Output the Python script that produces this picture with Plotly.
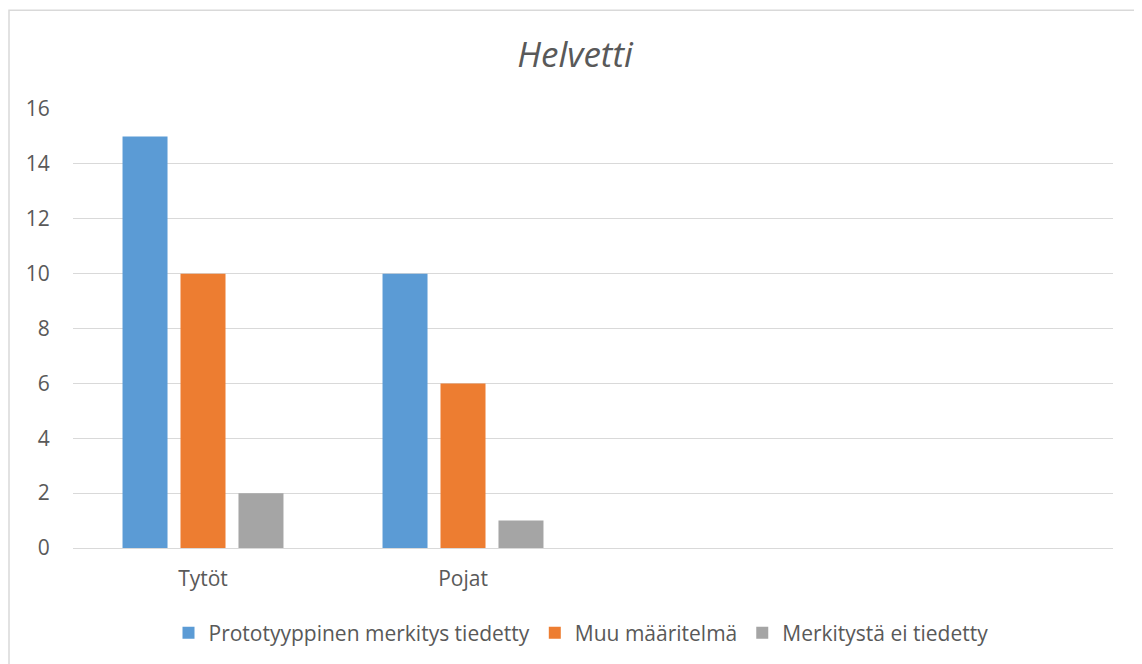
import plotly.graph_objects as go

categories = ["Tytöt", "Pojat"]
series_names = ["Prototyyppinen merkitys tiedetty", "Muu määritelmä", "Merkitystä ei tiedetty"]
prototyyppinen = [15, 10]
muu = [10, 6]
ei_tiedetty = [2, 1]
y_ticks = [0, 2, 4, 6, 8, 10, 12, 14, 16]
title_text = "Helvetti"

colors = ["#5B9BD5", "#ED7D31", "#A5A5A5"]
FONT = "Open Sans"
TXT = "#595959"

W, H = 1134, 656
L, R, T, B = 65, 29, 101, 115
PW = W - L - R
PH = H - T - B

fig = go.Figure()
for name, vals, col in zip(series_names, [prototyyppinen, muu, ei_tiedetty], colors):
    fig.add_trace(go.Bar(x=categories, y=vals, name=name, marker=dict(color=col, line=dict(width=0))))

fig.update_layout(
    width=W, height=H,
    paper_bgcolor="white", plot_bgcolor="white",
    margin=dict(l=L, r=R, t=T, b=B),
    barmode="group", bargap=0.331, bargroupgap=0.224,
    font=dict(family=FONT, color=TXT, size=21),
    title=dict(text=title_text, x=0.5, xanchor="center", y=1 - 47/H, yanchor="middle",
               font=dict(family=FONT, size=35, color=TXT, style="italic")),
    showlegend=True,
    legend=dict(orientation="h", x=(573 - L) / PW, xanchor="center", y=-(633 - 8 - (H - B)) / PH, yanchor="middle",
                font=dict(family=FONT, size=21, color=TXT), itemwidth=30,
                traceorder="normal"),
    xaxis=dict(type="category", range=[-0.5, 3.5], showgrid=False, showline=False, zeroline=False,
               ticks="outside", ticklen=12, tickcolor="rgba(0,0,0,0)",
               tickfont=dict(family=FONT, size=21, color=TXT)),
    yaxis=dict(range=[0, 16], tickvals=y_ticks, showgrid=True, gridcolor="#D9D9D9", gridwidth=1.3,
               zeroline=True, zerolinecolor="#D9D9D9", zerolinewidth=1.3, showline=False,
               ticks="outside", ticklen=18, tickcolor="rgba(0,0,0,0)",
               tickfont=dict(family=FONT, size=21, color=TXT)),
    shapes=[dict(type="rect", xref="paper", yref="paper",
                 x0=(1 - L) / PW, x1=(W + 20 - L) / PW, y0=-(B + 20) / PH, y1=((H - B) - 2) / PH,
                 line=dict(color="#D9D9D9", width=1.5), fillcolor="rgba(0,0,0,0)", layer="below")],
)

fig.write_html("out.html")
